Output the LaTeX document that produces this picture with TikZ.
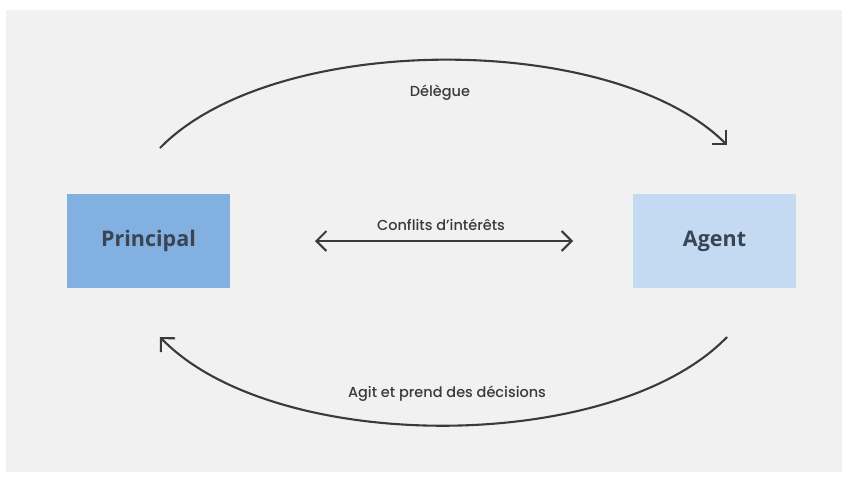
\documentclass[tikz,border=0pt]{standalone}
\usepackage{fontspec}
\setmainfont{Open Sans}
\newfontfamily\lblfont{Poppins Medium}
\usetikzlibrary{positioning,arrows.meta}
\definecolor{panelgray}{HTML}{F1F1F1}
\definecolor{princblue}{HTML}{82B0E0}
\definecolor{agentblue}{HTML}{C4DAF2}
\definecolor{boxtext}{HTML}{3A4452}
\definecolor{linegray}{HTML}{3A3A3A}
\begin{document}
\begin{tikzpicture}[
        x=1pt, y=-1pt,
        actor/.style={minimum width=163pt, minimum height=94pt, inner sep=0pt,
            text=boxtext, font=\fontsize{21.5}{21.5}\selectfont\bfseries},
        tip/.style={Straight Barb[length=10pt,width=20pt,line width=2.1pt]},
        link/.style={draw=linegray, line width=2.1pt, -{Straight Barb[length=10pt,width=20pt,line width=2.1pt]}},
        lbl/.style={text=linegray, font=\lblfont\fontsize{14.5}{14.5}\selectfont}
    ]
    \useasboundingbox (0,0) rectangle (842,477);
    \fill[white] (0,0) rectangle (842,477);
    \fill[panelgray] (6,10) rectangle (842,472);
    \node[actor, fill=princblue] (P) at (148.5,241) {Principal};
    \node[actor, fill=agentblue] (A) at (714.5,241) {Agent};
    \coordinate (P1) at (160,148);
    \coordinate (A1) at (727,145);
    \coordinate (A2) at (727,337);
    \coordinate (P2) at (160,337);
    \coordinate (M1) at (315,241);
    \coordinate (M2) at (573,241);
    \draw[link] (P1) .. controls (274,31) and (613,31) .. (A1);
    \draw[link] (A2) .. controls (613,455) and (274,455) .. (P2);
    \draw[link, {Straight Barb[length=10pt,width=20pt,line width=2.1pt]}-{Straight Barb[length=10pt,width=20pt,line width=2.1pt]}] (M1) -- (M2);
    \node[lbl] (d) at (440,93) {Délègue};
    \node[lbl] (c) at (441,225) {Conflits d’intérêts};
    \node[lbl] (g) at (447,394) {Agit et prend des décisions};
\end{tikzpicture}
\end{document}
